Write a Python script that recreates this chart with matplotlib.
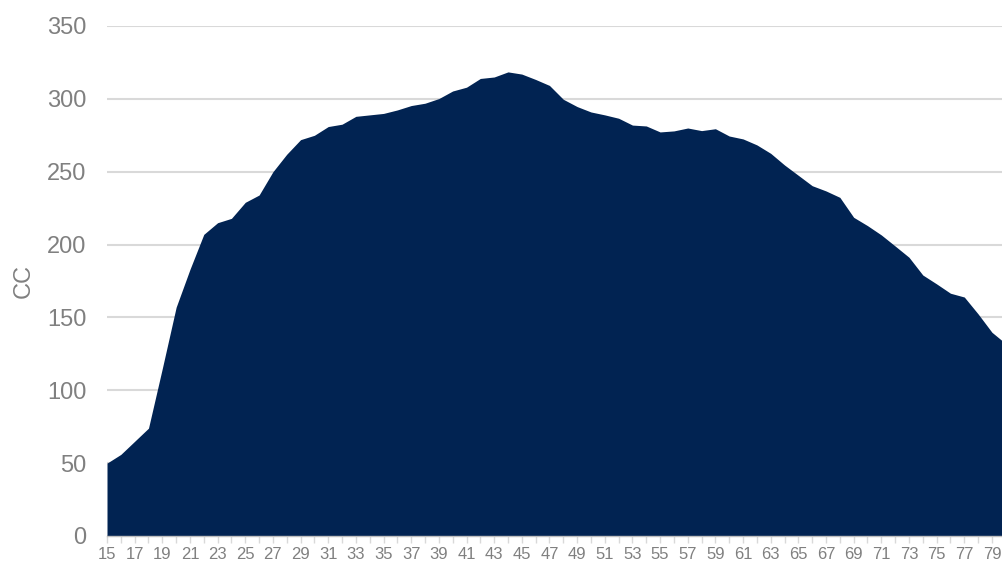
import matplotlib
matplotlib.use("Agg")
import matplotlib.pyplot as plt
from matplotlib.ticker import MultipleLocator, FixedLocator

ages = list(range(15, 81))
cc = [50, 56, 65, 74, 115, 157, 183, 207, 215, 218, 229, 234, 250, 262, 272,
      275, 281, 282.6, 288, 289, 290, 292.4, 295.4, 297, 300.2, 305.4, 308,
      314, 315, 318.5, 317, 313.3, 309.2, 299.7, 294.7, 291, 289, 286.7, 282,
      281.4, 277.3, 278, 280, 278.2, 279.5, 274.5, 272.5, 268.4, 262.6, 254.6,
      247.5, 240.4, 236.8, 232.4, 218.7, 213, 206.6, 199, 191.3, 179.1, 173,
      166.6, 164, 152.4, 139.8, 132]
yticks = [0, 50, 100, 150, 200, 250, 300, 350]
xlabels = list(range(15, 80, 2))

W, H = 1003, 565
fig = plt.figure(figsize=(W / 100, H / 100), dpi=100)
ax = fig.add_axes([107 / W, 1 - 536 / H, 1 - 107 / W, (536 - 26) / H])

ax.fill_between(ages, cc, 0, color="#012352", linewidth=0, zorder=2)

ax.set_xlim(15, 79.8)
ax.set_ylim(0, 350)

ax.set_yticks(yticks)
ax.yaxis.grid(True, color="#d9d9d9", linewidth=1.5, zorder=0)
ax.set_axisbelow(True)

ax.xaxis.set_major_locator(FixedLocator(xlabels))
ax.xaxis.set_minor_locator(MultipleLocator(1))
ax.set_xticklabels([str(v) for v in xlabels])

for s in ["top", "right", "left"]:
    ax.spines[s].set_visible(False)
ax.spines["bottom"].set_color("#bfbfbf")
ax.spines["bottom"].set_linewidth(1.0)
ax.spines["bottom"].set_zorder(3)

ax.tick_params(axis="y", length=0, pad=15, labelsize=17, labelcolor="#808080")
ax.tick_params(axis="x", which="both", length=5, width=1, color="#d9d9d9",
               direction="out")
ax.tick_params(axis="x", which="major", pad=3, labelsize=12, labelcolor="#808080")

for lab in ax.get_xticklabels() + ax.get_yticklabels():
    lab.set_family(["Liberation Sans", "DejaVu Sans"])

ax.set_ylabel("CC", fontsize=17, color="#808080",
              family=["Liberation Sans", "DejaVu Sans"], labelpad=9)

fig.savefig("out.png", dpi=100)
